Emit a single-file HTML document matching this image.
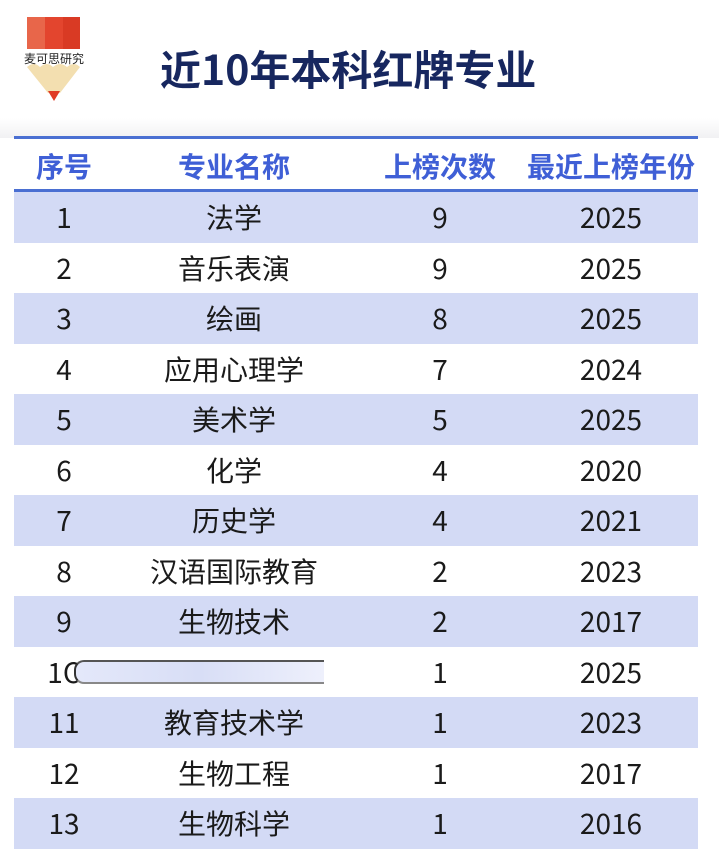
<!DOCTYPE html>
<html><head><meta charset="utf-8"><style>
*{margin:0;padding:0;box-sizing:border-box}
body{width:719px;height:848px;overflow:hidden;background:#fff;font-family:"Noto Sans CJK SC","Liberation Sans",sans-serif;position:relative}
.title{position:absolute;left:160px;top:38px;font-size:41px;font-weight:bold;color:#17275f;line-height:58px;white-space:nowrap}
.band{position:absolute;left:0;top:118px;width:719px;height:20px;background:linear-gradient(#fff,#f1f1f3)}
.line{position:absolute;left:14px;width:684px;height:3px;background:#4a6fd2}
.row{position:absolute;left:14px;width:684px;height:51px;white-space:nowrap}
.row.s{background:#d3daf5}
.row span{position:absolute;top:0;line-height:50px;font-size:28px;color:#1a1a1a;transform:translateX(-50%)}
.h span{color:#3f5fd6;font-weight:bold;line-height:54px}
</style></head><body>
<svg style="position:absolute;left:22px;top:15px" width="64" height="88" viewBox="0 0 64 88">
<rect x="5" y="2" width="18" height="46" fill="#e8664a"/><rect x="23" y="2" width="18" height="46" fill="#e3452e"/><rect x="41" y="2" width="17" height="46" fill="#d93a24"/>
<rect x="2" y="34" width="60" height="18" fill="#fff"/>
<path d="M5 52 Q12 46 18 52 Q25 46 31 52 Q38 46 45 52 Q52 46 58 52 L38 78 L26 78 Z" fill="#f3dfb0"/>
<path d="M26 76 L38 76 L32 86 Z" fill="#e03b25"/>
<text x="32" y="48" font-size="12" text-anchor="middle" fill="#222" font-family="Noto Sans CJK SC,sans-serif">麦可思研究</text>
</svg>
<div class="title">近10年本科红牌专业</div>
<div class="band"></div>
<div class="line" style="top:136px"></div>
<div class="row h" style="top:139px"><span style="left:50px">序号</span><span style="left:220px">专业名称</span><span style="left:426px">上榜次数</span><span style="left:597px">最近上榜年份</span></div>
<div class="line" style="top:189px"></div>
<div class="row s" style="top:192px"><span style="left:50px">1</span><span style="left:220px">法学</span><span style="left:426px">9</span><span style="left:597px">2025</span></div>
<div class="row" style="top:242.5px"><span style="left:50px">2</span><span style="left:220px">音乐表演</span><span style="left:426px">9</span><span style="left:597px">2025</span></div>
<div class="row s" style="top:293px"><span style="left:50px">3</span><span style="left:220px">绘画</span><span style="left:426px">8</span><span style="left:597px">2025</span></div>
<div class="row" style="top:343.5px"><span style="left:50px">4</span><span style="left:220px">应用心理学</span><span style="left:426px">7</span><span style="left:597px">2024</span></div>
<div class="row s" style="top:394px"><span style="left:50px">5</span><span style="left:220px">美术学</span><span style="left:426px">5</span><span style="left:597px">2025</span></div>
<div class="row" style="top:444.5px"><span style="left:50px">6</span><span style="left:220px">化学</span><span style="left:426px">4</span><span style="left:597px">2020</span></div>
<div class="row s" style="top:495px"><span style="left:50px">7</span><span style="left:220px">历史学</span><span style="left:426px">4</span><span style="left:597px">2021</span></div>
<div class="row" style="top:545.5px"><span style="left:50px">8</span><span style="left:220px">汉语国际教育</span><span style="left:426px">2</span><span style="left:597px">2023</span></div>
<div class="row s" style="top:596px"><span style="left:50px">9</span><span style="left:220px">生物技术</span><span style="left:426px">2</span><span style="left:597px">2017</span></div>
<div class="row" style="top:646.5px"><span style="left:50px">1C</span><div style="position:absolute;left:60px;top:13px;width:250px;height:24px;border-top:2px solid #555;border-bottom:2px solid #888;border-left:2px solid #333;border-radius:10px 0 0 10px;background:linear-gradient(90deg,#e4e8fa,#d8def6,#eef0fc)"></div><span style="left:426px">1</span><span style="left:597px">2025</span></div>
<div class="row s" style="top:697px"><span style="left:50px">11</span><span style="left:220px">教育技术学</span><span style="left:426px">1</span><span style="left:597px">2023</span></div>
<div class="row" style="top:747.5px"><span style="left:50px">12</span><span style="left:220px">生物工程</span><span style="left:426px">1</span><span style="left:597px">2017</span></div>
<div class="row s" style="top:798px"><span style="left:50px">13</span><span style="left:220px">生物科学</span><span style="left:426px">1</span><span style="left:597px">2016</span></div>
</body></html>
